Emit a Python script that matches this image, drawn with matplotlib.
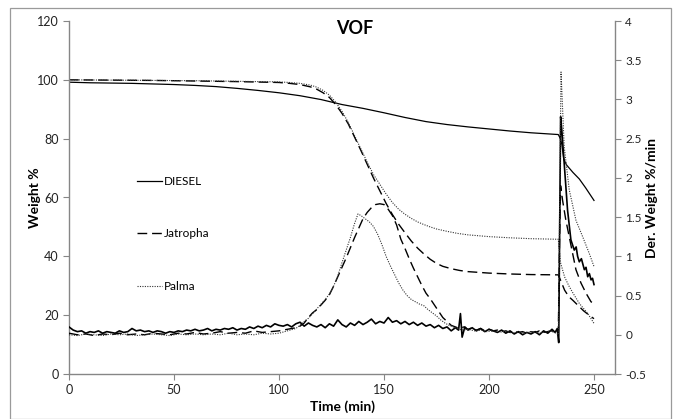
import matplotlib
matplotlib.use("Agg")
import matplotlib.pyplot as plt
from matplotlib.patches import Rectangle

plt.rcParams['font.family'] = ['Lato', 'DejaVu Sans']

title = "VOF"
xlabel = "Time (min)"
ylabel_left = "Weight %"
ylabel_right = "Der. Weight %/min"
series_names = ["DIESEL", "Jatropha", "Palma"]

# ---- Weight curves (left axis) ----
diesel_w_t = [0, 10, 20, 30, 40, 50, 60, 70, 80, 90, 100, 110, 120, 130, 140, 150, 160, 170,
              180, 190, 200, 210, 220, 233, 234, 234.7, 235.6, 237, 240, 243, 246, 250]
diesel_w = [99.2, 99.0, 98.9, 98.8, 98.6, 98.4, 98.1, 97.7, 97.1, 96.4, 95.6, 94.6, 93.3, 91.6,
            90.3, 88.8, 87.2, 85.8, 84.8, 84.0, 83.3, 82.6, 82.0, 81.4, 80.0, 78.0, 73.0, 71.0,
            68.5, 66.3, 63.3, 59.0]

jat_w_t = [0, 20, 40, 60, 80, 100, 105, 110, 115, 118, 121, 124, 127, 130, 133, 136, 139, 142,
           145, 148, 151, 154, 157, 160, 163, 166, 169, 172, 175, 178, 182, 186, 190, 200, 210,
           220, 233, 234, 236, 238, 240, 242, 245, 248, 250]
jat_w = [100, 99.9, 99.8, 99.6, 99.4, 99.1, 98.8, 98.4, 97.6, 96.8, 95.6, 94.0, 91.6, 88.6, 85.0,
         80.5, 76.0, 71.3, 66.6, 62.3, 58.0, 54.2, 50.9, 48.0, 45.2, 42.8, 40.8, 39.0, 37.6, 36.6,
         35.8, 35.2, 34.8, 34.3, 34.0, 33.8, 33.7, 32.0, 28.5, 26.3, 25.0, 23.6, 21.5, 19.8, 18.8]

pal_w_t = [0, 20, 40, 60, 80, 100, 105, 110, 115, 118, 121, 124, 127, 130, 133, 136, 139, 142,
           145, 148, 151, 154, 157, 160, 163, 166, 169, 172, 175, 180, 185, 190, 200, 210, 220,
           233, 234, 236, 238, 240, 243, 247, 250]
pal_w = [100, 99.9, 99.8, 99.7, 99.5, 99.3, 99.1, 98.8, 98.2, 97.5, 96.4, 94.8, 92.4, 89.3, 85.5,
         81.0, 76.5, 72.0, 67.8, 64.5, 61.2, 58.3, 56.0, 54.3, 52.9, 51.7, 50.8, 50.0, 49.3, 48.5,
         47.8, 47.3, 46.7, 46.3, 46.0, 45.8, 38.0, 33.0, 30.0, 27.5, 24.0, 20.6, 17.2]

# ---- Derivative curves (right axis) ----
diesel_d_t = [0, 2, 4, 6, 8, 10, 12, 14, 16, 18, 20, 22, 24, 26, 28, 30, 32, 34, 36, 38, 40, 42,
              44, 46, 48, 50, 52, 54, 56, 58, 60, 62, 64, 66, 68, 70, 72, 74, 76, 78, 80, 82, 84,
              86, 88, 90, 92, 94, 96, 98, 100, 102, 104, 106, 108, 110, 112, 114, 116, 118, 120,
              122, 124, 126, 128, 130, 132, 134, 136, 138, 140, 142, 144, 146, 148, 150, 152,
              154, 156, 158, 160, 162, 164, 166, 168, 170, 172, 174, 176, 178, 180, 182, 184,
              185.5, 186.4, 187.2, 188.5, 190, 192, 194, 196, 198, 200, 202, 204, 206, 208, 210,
              212, 214, 216, 218, 220, 222, 224, 226, 228, 230, 231.5, 232.5, 233.2, 234.1,
              234.7, 235.8, 237.4, 239, 240.6, 241.5, 242.2, 243, 244, 245.4, 246.2, 247, 247.8,
              248.6, 249.3, 250]
diesel_d = [0.10, 0.06, 0.04, 0.05, 0.02, 0.04, 0.03, 0.05, 0.02, 0.04, 0.03, 0.02, 0.05, 0.03,
            0.04, 0.08, 0.05, 0.06, 0.04, 0.05, 0.03, 0.05, 0.04, 0.02, 0.04, 0.03, 0.05, 0.04,
            0.06, 0.05, 0.07, 0.05, 0.06, 0.08, 0.05, 0.07, 0.06, 0.08, 0.07, 0.09, 0.06, 0.08,
            0.07, 0.10, 0.08, 0.11, 0.09, 0.12, 0.10, 0.14, 0.12, 0.11, 0.13, 0.10, 0.14, 0.16,
            0.11, 0.15, 0.12, 0.10, 0.13, 0.09, 0.14, 0.11, 0.19, 0.13, 0.10, 0.15, 0.12, 0.17,
            0.13, 0.16, 0.20, 0.14, 0.17, 0.15, 0.22, 0.16, 0.18, 0.14, 0.17, 0.13, 0.16, 0.12,
            0.15, 0.11, 0.13, 0.09, 0.12, 0.08, 0.10, 0.05, 0.09, 0.06, 0.27, -0.03, 0.10, 0.06,
            0.09, 0.05, 0.08, 0.04, 0.07, 0.05, 0.03, 0.06, 0.02, 0.05, 0.01, 0.04, 0.00, 0.03,
            0.01, 0.04, 0.00, 0.05, 0.02, 0.07, 0.03, 0.08, -0.10, 2.78, 2.60, 2.19, 1.59,
            1.21, 1.08, 1.12, 1.00, 0.93, 0.97, 0.83, 0.86, 0.74, 0.78, 0.70, 0.72, 0.64]

jat_d_t = [0, 4, 8, 12, 16, 20, 24, 28, 32, 36, 40, 44, 48, 52, 56, 60, 64, 68, 72, 76, 80, 84,
           88, 92, 96, 100, 104, 108, 110, 112, 114, 116, 118, 120, 122, 124, 126, 128, 130, 132,
           134, 136, 138, 140, 142, 144, 146, 148, 150, 152, 154, 156, 158, 160, 162, 164, 166,
           168, 170, 172, 174, 176, 178, 180, 182, 184, 186, 188, 190, 192, 194, 196, 198, 200,
           202, 204, 206, 208, 210, 212, 214, 216, 218, 220, 222, 224, 226, 228, 230, 232, 233,
           233.6, 234.1, 235, 236.6, 238.2, 239.8, 241.4, 243.8, 246.2, 248.6, 250]
jat_d = [0.02, 0.00, 0.01, -0.01, 0.01, 0.00, 0.02, 0.00, 0.01, 0.00, 0.02, 0.01, 0.00, 0.02,
         0.01, 0.03, 0.01, 0.02, 0.04, 0.02, 0.03, 0.02, 0.05, 0.03, 0.04, 0.05, 0.07, 0.09, 0.11,
         0.15, 0.22, 0.28, 0.32, 0.38, 0.44, 0.51, 0.62, 0.74, 0.86, 0.98, 1.11, 1.24, 1.36, 1.48,
         1.56, 1.62, 1.66, 1.67, 1.66, 1.60, 1.52, 1.40, 1.22, 1.10, 0.97, 0.85, 0.74, 0.63, 0.53,
         0.46, 0.38, 0.30, 0.22, 0.17, 0.12, 0.10, 0.08, 0.10, 0.07, 0.09, 0.06, 0.08, 0.05, 0.07,
         0.05, 0.06, 0.04, 0.05, 0.03, 0.05, 0.03, 0.04, 0.02, 0.04, 0.03, 0.05, 0.03, 0.04, 0.05,
         0.03, 0.00, 1.20, 1.90, 1.72, 1.46, 1.25, 1.04, 0.83, 0.66, 0.53, 0.42, 0.40]

pal_d_t = [0, 4, 8, 12, 16, 20, 24, 28, 32, 36, 40, 44, 48, 52, 56, 60, 64, 68, 72, 76, 80, 84,
           88, 92, 96, 100, 104, 108, 110, 112, 114, 116, 118, 120, 122, 124, 126, 128, 130, 132,
           134, 136, 137.6, 139, 141, 143, 145, 147, 149, 151, 153, 155, 157, 159, 161, 163, 165,
           167, 169, 171, 173, 175, 177, 179, 181, 183, 185, 187, 190, 193, 196, 199, 202, 205,
           208, 211, 214, 217, 220, 223, 226, 229, 232, 233, 234.3, 235.8, 238.2, 241.4, 244.6,
           247.7, 250]
pal_d = [0.00, -0.01, 0.01, 0.00, -0.01, 0.01, 0.00, 0.01, -0.01, 0.00, 0.01, 0.00, -0.01, 0.01,
         0.00, 0.01, 0.00, 0.01, 0.00, 0.02, 0.00, 0.01, 0.00, 0.02, 0.01, 0.02, 0.05, 0.08, 0.12,
         0.17, 0.21, 0.27, 0.33, 0.39, 0.45, 0.52, 0.62, 0.75, 0.92, 1.08, 1.24, 1.42, 1.54, 1.52,
         1.48, 1.44, 1.38, 1.28, 1.15, 1.00, 0.88, 0.77, 0.66, 0.57, 0.50, 0.45, 0.42, 0.39, 0.37,
         0.32, 0.28, 0.24, 0.19, 0.15, 0.12, 0.10, 0.08, 0.06, 0.07, 0.05, 0.06, 0.04, 0.05, 0.03,
         0.05, 0.02, 0.04, 0.02, 0.04, 0.02, 0.03, 0.05, 0.02, 0.00, 3.35, 2.40, 1.85, 1.46, 1.25,
         1.04, 0.87]

x_ticks = [0, 50, 100, 150, 200, 250]
y_left_ticks = [0, 20, 40, 60, 80, 100, 120]
y_right_ticks = [-0.5, 0, 0.5, 1, 1.5, 2, 2.5, 3, 3.5, 4]

W, H = 673, 419
fig = plt.figure(figsize=(W / 100, H / 100), dpi=100)
ax_left, ax_right, ax_top, ax_bot = 69, 615, 21, 374
ax = fig.add_axes([ax_left / W, 1 - ax_bot / H, (ax_right - ax_left) / W, (ax_bot - ax_top) / H])
ax2 = ax.twinx()

# outer chart border
fig.patches.append(Rectangle((10 / W, 0), (671 - 10) / W, 1 - 8 / H, transform=fig.transFigure,
                             fill=False, edgecolor='#9a9a9a', linewidth=0.9))

dash = (0, (7, 3.5))
dot = (0, (1, 1.2))

l1, = ax.plot(diesel_w_t, diesel_w, color='black', lw=0.9, ls='-')
l2, = ax.plot(jat_w_t, jat_w, color='black', lw=1.0, ls=dash)
l3, = ax.plot(pal_w_t, pal_w, color='#333333', lw=0.8, ls=dot)

ax2.plot(diesel_d_t, diesel_d, color='black', lw=1.2, ls='-')
ax2.plot(jat_d_t, jat_d, color='black', lw=1.0, ls=dash)
ax2.plot(pal_d_t, pal_d, color='#333333', lw=0.8, ls=dot)

ax.set_xlim(0, 260)
ax.set_ylim(0, 120)
ax2.set_ylim(-0.5, 4)
ax.set_xticks(x_ticks)
ax.set_yticks(y_left_ticks)
ax2.set_yticks(y_right_ticks)
ax.set_xticklabels([str(v) for v in x_ticks])
ax.set_yticklabels([str(v) for v in y_left_ticks])
ax2.set_yticklabels([f"{v:g}" for v in y_right_ticks])

spc = '#868686'
for a in (ax, ax2):
    for s in a.spines.values():
        s.set_color(spc)
        s.set_linewidth(1.0)
    a.spines['top'].set_visible(False)
ax.spines['right'].set_visible(False)
ax2.spines['left'].set_visible(False)
ax2.spines['bottom'].set_visible(False)

ax.tick_params(axis='both', colors=spc, labelcolor='#222222', length=4, width=0.8,
               labelsize=9, direction='out')
ax2.tick_params(axis='y', colors=spc, labelcolor='#222222', length=4, width=0.8,
                labelsize=8.5, direction='out')

axw = ax_right - ax_left
ax.set_xlabel(xlabel, fontsize=10, fontweight='bold', labelpad=3)
ax.set_ylabel(ylabel_left, fontsize=10, fontweight='bold')
ax.yaxis.set_label_coords((41 - ax_left) / axw, 0.5)
ax2.set_ylabel(ylabel_right, fontsize=10, fontweight='bold')
ax2.yaxis.set_label_coords((646 - ax_left) / axw, 0.5)

fig.text(355 / W, 1 - 28 / H, title, fontsize=13, fontweight='bold', ha='center', va='center')

leg = ax.legend([l1, l2, l3], series_names, loc='upper left',
                bbox_to_anchor=(137 / W, 1 - 176 / H), bbox_transform=fig.transFigure,
                frameon=False, fontsize=8.5, labelspacing=3.5, handlelength=2.1,
                handletextpad=0.2, borderpad=0, borderaxespad=0)

fig.savefig("out.png", dpi=100)
